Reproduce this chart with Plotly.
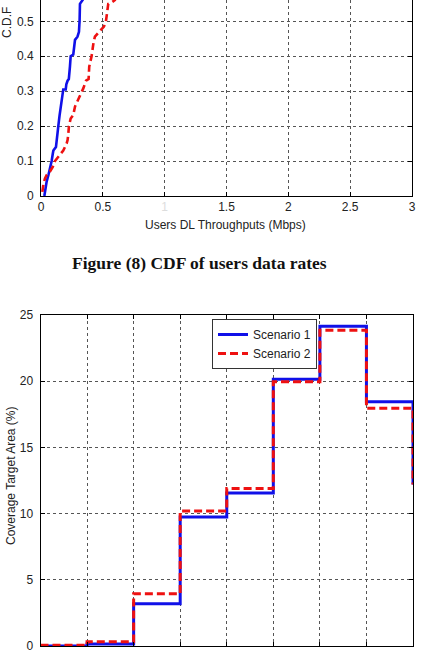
import plotly.graph_objects as go

# ---------------- data ----------------
# Top chart: CDF of users DL throughput (Mbps)
cdf_s1_x = [0.027, 0.035, 0.045, 0.06, 0.075, 0.086, 0.095, 0.1, 0.121, 0.126, 0.14, 0.15,
            0.165, 0.175, 0.18, 0.2, 0.205, 0.215, 0.225, 0.234, 0.24, 0.261, 0.266, 0.275,
            0.295, 0.307, 0.31, 0.312, 0.315, 0.337, 0.35]
cdf_s1_y = [0.0, 0.02, 0.04, 0.06, 0.08, 0.1, 0.12, 0.13, 0.14, 0.16, 0.2, 0.23,
            0.27, 0.3, 0.305, 0.305, 0.32, 0.33, 0.335, 0.37, 0.4, 0.405, 0.43, 0.447,
            0.456, 0.47, 0.49, 0.5, 0.55, 0.561, 0.58]
cdf_s2_x = [0.011, 0.02, 0.032, 0.046, 0.073, 0.095, 0.113, 0.14, 0.165, 0.18, 0.207, 0.215,
            0.221, 0.226, 0.24, 0.261, 0.275, 0.3, 0.329, 0.342, 0.364, 0.385, 0.39, 0.409,
            0.425, 0.436, 0.47, 0.509, 0.525, 0.544, 0.575, 0.598, 0.61]
cdf_s2_y = [0.012, 0.035, 0.05, 0.06, 0.07, 0.083, 0.1, 0.113, 0.125, 0.13, 0.15, 0.16,
            0.179, 0.2, 0.222, 0.232, 0.256, 0.275, 0.3, 0.308, 0.33, 0.335, 0.37, 0.4,
            0.44, 0.456, 0.47, 0.485, 0.5, 0.55, 0.555, 0.561, 0.58]
cdf_xticks = [0, 0.5, 1, 1.5, 2, 2.5, 3]
cdf_xticktext = ["0", "0.5", '<span style="color:#dddddd">1</span>', "1.5", "2", "2.5", "3"]
cdf_yticks = [0, 0.1, 0.2, 0.3, 0.4, 0.5]

# Bottom chart: coverage target area (%) per signal-level bin
bin_edges = [-105, -100, -95, -90, -85, -80, -75, -70, -65]
cov_s1 = [0.0, 0.15, 3.2, 9.75, 11.55, 20.15, 24.15, 18.45, 12.2]
cov_s2 = [0.05, 0.33, 3.95, 10.2, 11.9, 19.95, 23.85, 17.95, 12.2]
cov_yticks = [0, 5, 10, 15, 20, 25]
series_names = ["Scenario 1", "Scenario 2"]

# ---------------- figure ----------------
W, H = 425, 653
BLUE = "#1010e8"
RED = "#ee1111"
FONT = "Liberation Sans"
TXT = "#222222"

fig = go.Figure()

# top chart traces
fig.add_trace(go.Scatter(x=cdf_s1_x, y=cdf_s1_y, mode="lines", xaxis="x", yaxis="y",
                         line=dict(color=BLUE, width=2.6), showlegend=False))
fig.add_trace(go.Scatter(x=cdf_s2_x, y=cdf_s2_y, mode="lines", xaxis="x", yaxis="y",
                         line=dict(color=RED, width=2.6, dash="7px,4px"), showlegend=False))

# bottom chart traces
fig.add_trace(go.Scatter(x=bin_edges, y=cov_s1, mode="lines", xaxis="x2", yaxis="y2",
                         line=dict(color=BLUE, width=3, shape="hv"), name=series_names[0]))
fig.add_trace(go.Scatter(x=bin_edges, y=cov_s2, mode="lines", xaxis="x2", yaxis="y2",
                         line=dict(color=RED, width=3, shape="hv", dash="8px,4px"),
                         name=series_names[1]))

def px_y(p):
    return 1 - p / H

def px_x(p):
    return p / W

axis_common = dict(showline=True, linecolor="black", linewidth=1, ticks="inside",
                   ticklen=4, tickcolor="black", showgrid=True, gridcolor="#555555",
                   griddash="dot", gridwidth=1, zeroline=False, automargin=False,
                   ticklabeloverflow="allow",
                   tickfont=dict(family=FONT, size=12, color=TXT))

fig.update_layout(
    width=W, height=H, margin=dict(l=0, r=0, t=0, b=0, autoexpand=False),
    paper_bgcolor="white", plot_bgcolor="white",
    font=dict(family=FONT, size=12, color=TXT),
    xaxis=dict(axis_common, domain=[px_x(41), px_x(412)], range=[0, 3],
               tickvals=cdf_xticks, ticktext=cdf_xticktext, mirror=False, anchor="y"),
    yaxis=dict(axis_common, domain=[px_y(196), 1.0], range=[0, 0.561],
               tickvals=cdf_yticks, ticktext=["0", "0.1", "0.2", "0.3", "0.4", "0.5"],
               mirror="allticks", anchor="x", ticklabelstandoff=4),
    xaxis2=dict(axis_common, domain=[px_x(40.5), px_x(413)], range=[-105, -65],
                tickvals=bin_edges, mirror="allticks", anchor="y2", ticklabelstandoff=5),
    yaxis2=dict(axis_common, domain=[px_y(646), px_y(315)], range=[0, 25],
                tickvals=cov_yticks, mirror="allticks", anchor="x2", ticklabelstandoff=4),
    legend=dict(x=px_x(212), y=px_y(319), xanchor="left", yanchor="top",
                bgcolor="white", bordercolor="#333333", borderwidth=1,
                font=dict(family=FONT, size=12, color=TXT),
                tracegroupgap=0, itemwidth=30),
    annotations=[
        dict(text="C.D.F", x=px_x(7), y=px_y(23), xref="paper", yref="paper",
             xanchor="center", yanchor="middle",
             showarrow=False, textangle=-90, font=dict(family=FONT, size=12, color=TXT)),
        dict(text="Users DL Throughputs (Mbps)", x=px_x(225), y=px_y(225),
             xref="paper", yref="paper", showarrow=False, xanchor="center", yanchor="middle",
             font=dict(family=FONT, size=12, color=TXT)),
        dict(text="<b>Figure (8) CDF of users data rates</b>", x=px_x(199), y=px_y(263),
             xref="paper", yref="paper", showarrow=False, xanchor="center", yanchor="middle",
             font=dict(family="Liberation Serif", size=17.5, color="#111111")),
        dict(text="Coverage Target Area (%)", x=px_x(11), y=px_y(476), xref="paper",
             yref="paper", showarrow=False, textangle=-90, xanchor="center", yanchor="middle",
             font=dict(family=FONT, size=12, color=TXT)),
    ],
)

fig.write_html("out.html")
